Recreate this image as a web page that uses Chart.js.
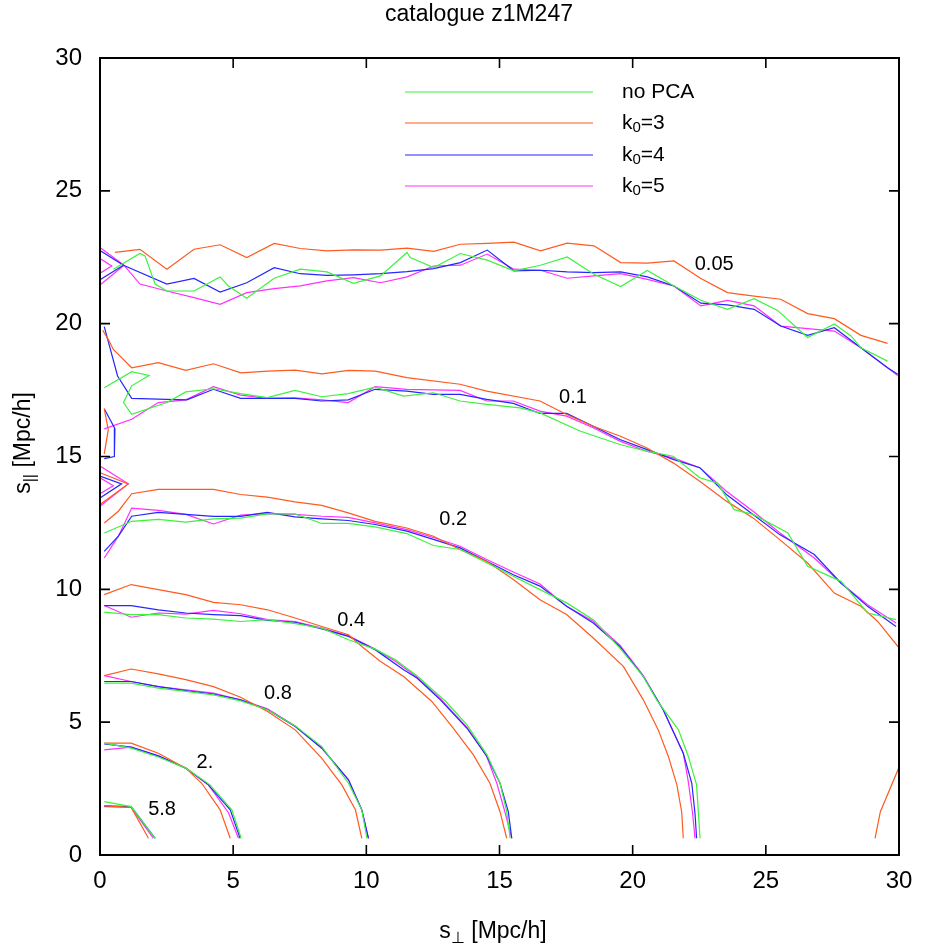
<!DOCTYPE html>
<html>
<head>
<meta charset="utf-8">
<script src="https://cdn.jsdelivr.net/npm/chart.js@4.4.1/dist/chart.umd.min.js"></script>
<style>
html,body{margin:0;padding:0;background:#fff;}
#c{display:block;}
</style>
</head>
<body>
<canvas id="c" width="926" height="951"></canvas>
<script>
// ---------- DATA ----------
const chartTitle = "catalogue z1M247";
const xTicks = [0, 5, 10, 15, 20, 25, 30];
const yTicks = [0, 5, 10, 15, 20, 25, 30];
const seriesLabels = ["no PCA", "k0=3", "k0=4", "k0=5"];
const contourLevels = ["0.05", "0.1", "0.2", "0.4", "0.8", "2.", "5.8"];
const contourLabelPos = [[23.06,22.22],[17.76,17.23],[13.26,12.64],[9.43,8.81],[6.68,6.07],[3.94,3.5],[2.33,1.73]];

// no PCA (green)
const np_005 = [[0.5,22.05],[1.5,22.64],[1.69,22.55],[2.07,21.49],[2.51,21.23],[3.53,21.23],[4.51,21.76],[4.82,21.42],[5.51,20.96],[6.54,21.71],[7.52,22.05],[8.52,21.95],[9.52,21.52],[10.53,21.8],[11.53,22.68],[11.65,22.49],[12.53,22.11],[13.53,22.64],[14.54,22.39],[15.54,21.99],[16.54,22.2],[17.54,22.51],[18.55,21.86],[19.55,21.4],[20.55,22.0],[21.55,21.42],[22.56,20.88],[23.56,20.54],[24.56,20.94],[25.44,20.5],[26.57,19.48],[27.57,19.99],[28.2,19.54],[28.57,19.09],[29.57,18.59]];
const np_01 = [[0.16,17.59],[1.19,18.19],[1.84,18.05],[1.19,17.66],[0.88,17.03],[1.19,16.59],[2.51,17.03],[3.22,17.43],[4.26,17.55],[5.28,17.37],[6.28,17.22],[7.32,17.49],[8.33,17.25],[9.32,17.37],[10.33,17.61],[11.4,17.27],[12.52,17.4],[13.52,17.09],[14.52,16.96],[15.77,16.83],[16.52,16.64],[18.02,15.96],[19.52,15.45],[20.52,15.2],[21.52,15.01],[22.52,14.2],[23.18,14.0],[23.81,13.0],[24.52,12.82],[25.82,12.13],[26.57,10.87],[27.82,10.3],[28.2,9.86],[28.82,9.11],[29.89,8.86]];
const np_02 = [[0.16,12.12],[1.19,12.56],[2.19,12.63],[3.22,12.53],[4.26,12.65],[5.28,12.68],[6.28,12.84],[7.32,12.84],[8.33,12.48],[9.32,12.48],[10.33,12.35],[11.52,12.1],[12.52,11.65],[13.52,11.5],[14.52,11.0],[15.52,10.49],[16.52,9.99],[17.52,9.49],[18.52,8.86],[19.52,7.79],[20.4,6.72],[20.9,5.84],[21.72,4.71],[22.09,3.71],[22.4,2.64],[22.53,0.63]];
const np_04 = [[0.16,9.14],[1.17,9.05],[2.19,9.05],[3.22,8.92],[4.26,8.88],[5.28,8.79],[6.29,8.86],[7.33,8.71],[8.33,8.54],[9.33,8.1],[10.33,7.75],[11.09,7.35],[11.9,6.75],[13.02,5.74],[13.78,4.9],[14.53,3.77],[15.02,2.7],[15.27,1.63],[15.4,0.63]];
const np_08 = [[0.16,6.47],[1.17,6.47],[2.19,6.28],[3.22,6.16],[4.26,6.03],[5.28,5.8],[6.29,5.47],[7.33,4.86],[8.33,4.08],[9.33,2.7],[9.83,1.7],[10.02,0.63]];
const np_2 = [[0.16,4.21],[1.17,4.02],[2.19,3.69],[3.22,3.27],[4.13,2.64],[4.95,1.7],[5.3,0.63]];
const np_58 = [[0.16,2.01],[1.17,1.82],[2.07,0.63]];

// k0=3 (orange)
const k3_005 = [[0.56,22.68],[1.5,22.8],[2.51,22.05],[3.53,22.8],[4.51,22.97],[5.51,22.49],[6.54,23.02],[7.52,22.83],[8.52,22.74],[9.52,22.78],[10.53,22.77],[11.53,22.84],[12.53,22.72],[13.53,22.99],[14.54,23.02],[15.54,23.07],[16.54,22.74],[17.54,23.03],[18.55,22.93],[19.55,22.3],[20.55,22.28],[21.55,22.36],[22.56,21.7],[23.56,21.17],[24.56,21.04],[25.56,20.92],[26.57,20.38],[27.57,20.19],[28.57,19.56],[29.57,19.26]];
const k3_01 = [[0.1,19.75],[0.31,19.41],[0.5,19.03],[1.19,18.34],[2.19,18.53],[3.22,18.24],[4.26,18.49],[5.29,18.15],[6.29,18.21],[7.33,18.25],[8.33,18.11],[9.34,18.24],[10.34,18.21],[11.52,17.97],[13.52,17.72],[14.52,17.46],[16.52,17.09],[17.52,16.58],[18.52,16.14],[19.52,15.77],[20.52,15.33],[21.52,14.76],[22.52,14.07],[23.52,13.32],[24.52,12.69],[25.52,11.87],[26.57,10.99],[27.57,9.86],[28.57,9.36],[29.2,8.79],[30,7.8]];
const k3_01b = [[0.16,16.8],[0.31,16.0],[0.16,15.1]];
const k3_01c = [[0,14.39],[1.06,13.97],[0,13.19]];
const k3_02 = [[0.16,12.5],[0.69,12.94],[1.19,13.6],[2.19,13.76],[4.26,13.76],[5.28,13.57],[6.28,13.47],[7.32,13.29],[8.33,13.16],[9.32,12.88],[10.33,12.56],[11.52,12.31],[12.52,12.0],[13.52,11.5],[14.52,11.06],[15.52,10.37],[16.52,9.61],[17.52,9.05],[18.52,8.17],[19.65,7.1],[20.4,5.84],[20.96,4.71],[21.34,3.71],[21.66,2.64],[21.84,1.63],[21.9,0.63]];
const k3_04 = [[0.16,9.8],[1.17,10.18],[2.19,9.99],[3.22,9.8],[4.26,9.51],[5.28,9.42],[6.29,9.23],[7.33,8.92],[8.33,8.6],[9.33,8.29],[9.83,7.85],[10.52,7.29],[11.4,6.72],[12.46,5.78],[13.27,4.77],[14.02,3.77],[14.64,2.7],[15.02,1.63],[15.27,0.63]];
const k3_08 = [[0.16,6.75],[1.17,7.0],[2.19,6.82],[3.22,6.6],[4.26,6.34],[5.28,5.94],[6.29,5.4],[7.33,4.71],[8.33,3.64],[9.08,2.64],[9.59,1.7],[9.83,0.63]];
const k3_2 = [[0.16,4.21],[1.17,4.21],[2.19,3.83],[3.22,3.27],[3.82,2.7],[4.51,1.7],[4.89,0.63]];
const k3_58 = [[0.16,1.85],[1.17,1.79],[1.82,0.63]];
const k3_corner = [[29.1,0.63],[29.3,1.63],[30,3.3]];

// k0=4 (blue)
const k4_005 = [[0,22.75],[0.88,22.2],[2.51,21.49],[3.53,21.7],[4.51,21.19],[5.51,21.54],[6.54,22.11],[7.52,21.88],[8.52,21.82],[9.52,21.84],[10.53,21.88],[11.53,21.96],[12.53,22.07],[13.53,22.3],[14.54,22.77],[15.54,21.99],[16.54,22.01],[17.54,21.95],[18.55,21.92],[19.55,21.95],[20.55,21.76],[21.55,21.42],[22.56,20.77],[23.56,20.71],[24.56,20.54],[25.56,19.91],[26.57,19.56],[27.57,19.85],[28.57,19.09],[29.57,18.34],[29.95,18.1]];
const k4_005b = [[0.88,22.2],[0,21.65]];
const k4_01 = [[0.16,19.89],[0.66,18.03],[1.19,17.19],[2.51,17.15],[3.26,17.13],[4.26,17.53],[5.28,17.19],[6.28,17.19],[7.32,17.19],[8.33,17.09],[9.32,17.13],[10.33,17.53],[11.52,17.46],[12.52,17.34],[13.52,17.34],[14.52,17.15],[15.52,17.0],[16.52,16.62],[17.52,16.62],[18.52,16.14],[19.52,15.64],[20.52,15.27],[21.52,14.89],[22.52,14.58],[23.52,13.57],[24.52,12.82],[25.52,12.06],[26.82,11.31],[27.82,10.24],[28.82,9.36],[29.89,8.6]];
const k4_01b = [[0.16,16.8],[0.56,16.05],[0.54,15.0],[0.16,14.92]];
const k4_01c = [[0,14.26],[0.81,13.97],[0,13.44]];
const k4_02 = [[0.16,11.43],[0.69,12.0],[1.19,12.75],[2.19,12.9],[3.22,12.82],[4.26,12.75],[5.28,12.75],[6.28,12.9],[7.32,12.73],[8.33,12.65],[9.32,12.59],[10.33,12.44],[11.52,12.19],[12.52,11.88],[13.52,11.56],[14.52,11.06],[15.52,10.55],[16.52,10.12],[17.52,9.36],[18.52,8.73],[19.52,7.85],[20.4,6.72],[21.15,5.46],[21.9,3.83],[22.22,2.7],[22.34,1.57],[22.4,0.63]];
const k4_04 = [[0.16,9.39],[1.17,9.39],[2.19,9.23],[3.22,9.11],[4.26,9.05],[5.28,9.01],[6.29,8.83],[7.33,8.76],[8.33,8.51],[9.33,8.23],[10.33,7.73],[11.4,6.97],[11.9,6.66],[12.78,5.84],[13.78,4.77],[14.53,3.71],[15.02,2.7],[15.33,1.63],[15.46,0.63]];
const k4_08 = [[0.16,6.53],[1.17,6.53],[2.19,6.34],[3.22,6.19],[4.26,6.06],[5.28,5.84],[6.29,5.47],[7.33,4.84],[8.33,4.02],[9.33,2.83],[9.83,1.7],[10.08,0.63]];
const k4_2 = [[0.16,4.18],[1.17,4.06],[2.19,3.73],[3.22,3.27],[4.07,2.64],[4.89,1.7],[5.26,0.63]];
const k4_58 = [[0.16,1.85],[1.17,1.82],[2.07,0.63]];

// k0=5 (magenta)
const k5_005 = [[0,22.87],[0.9,22.2],[1.5,21.49],[2.51,21.23],[3.53,20.98],[4.51,20.73],[5.51,21.17],[6.54,21.32],[7.52,21.42],[8.52,21.61],[9.52,21.73],[10.53,21.54],[11.53,21.76],[12.53,22.17],[13.53,22.2],[14.54,22.62],[15.54,22.05],[16.54,22.01],[17.54,21.71],[18.55,21.8],[19.55,21.88],[20.55,21.67],[21.55,21.42],[22.56,20.67],[23.56,20.88],[24.56,20.67],[25.56,19.91],[26.57,19.81],[27.57,19.72],[28.57,19.09],[29.57,18.34],[29.95,18.05]];
const k5_005b = [[0.9,22.2],[0,21.45]];
const k5_005c = [[0,22.45],[0.44,22.17],[0,21.9]];
const k5_01 = [[0.16,16.04],[1.19,16.4],[2.19,17.03],[3.22,17.13],[4.26,17.63],[5.28,17.31],[6.28,17.19],[7.32,17.21],[8.33,17.13],[9.32,17.03],[10.33,17.63],[11.52,17.53],[13.52,17.49],[14.52,17.09],[15.52,17.09],[16.52,16.71],[17.52,16.52],[18.52,16.08],[19.52,15.58],[20.52,15.2],[21.52,14.95],[22.52,14.58],[23.52,13.69],[24.52,12.94],[25.52,12.13],[26.82,11.18],[27.82,10.24],[28.82,9.42],[29.89,8.73]];
const k5_01c = [[0,14.64],[1.06,13.97],[0,13.13]];
const k5_01d = [[0,14.2],[0.5,13.9],[0,13.6]];
const k5_02 = [[0.16,11.18],[0.69,12.0],[1.19,13.06],[2.19,12.97],[3.22,12.82],[4.26,12.46],[5.28,12.79],[6.28,12.85],[7.32,12.82],[8.33,12.75],[9.32,12.71],[10.33,12.5],[11.52,12.25],[12.52,11.95],[13.52,11.62],[14.52,11.12],[15.52,10.65],[16.52,10.2],[17.52,9.36],[18.52,8.8],[19.52,7.9],[20.4,6.75],[21.15,5.46],[21.9,3.83],[22.09,2.75],[22.25,1.57],[22.34,0.63]];
const k5_04 = [[0.16,9.39],[1.17,8.95],[2.19,9.11],[3.22,9.07],[4.26,9.21],[5.28,9.08],[6.29,8.86],[7.33,8.79],[8.33,8.54],[9.33,8.25],[10.33,7.75],[11.09,7.29],[11.9,6.7],[12.78,5.88],[13.78,4.8],[14.5,3.75],[14.9,2.7],[15.2,1.63],[15.46,0.63]];
const k5_08 = [[0.16,6.75],[1.17,6.53],[2.19,6.34],[3.22,6.22],[4.26,6.09],[5.28,5.84],[6.29,5.5],[7.33,4.86],[8.33,4.02],[9.33,2.83],[9.83,1.7],[10.08,0.63]];
const k5_2 = [[0.16,3.96],[1.17,4.06],[2.19,3.73],[3.22,3.27],[4.07,2.64],[4.82,1.6],[5.2,0.63]];
const k5_58 = [[0.16,1.82],[1.17,1.79],[2.0,0.63]];

// ---------- STYLE ----------
const COLORS = ["#3cf23c", "#ff5a1f", "#2626ff", "#ff30ff"];
const FONT = "'Liberation Sans', Arial, sans-serif";

const groups = [
  [np_005, np_01, np_02, np_04, np_08, np_2, np_58],
  [k3_005, k3_01, k3_01b, k3_01c, k3_02, k3_04, k3_08, k3_2, k3_58, k3_corner],
  [k4_005, k4_005b, k4_01, k4_01b, k4_01c, k4_02, k4_04, k4_08, k4_2, k4_58],
  [k5_005, k5_005b, k5_005c, k5_01, k5_01c, k5_01d, k5_02, k5_04, k5_08, k5_2, k5_58]
];

const datasets = [];
groups.forEach((segs, gi) => {
  segs.forEach((seg, si) => {
    datasets.push({
      label: seriesLabels[gi] + (si ? "_" + si : ""),
      data: seg.map(p => ({x: p[0], y: p[1]})),
      showLine: true,
      borderColor: COLORS[gi],
      backgroundColor: COLORS[gi],
      borderWidth: 1.2,
      pointRadius: 0,
      pointHoverRadius: 0,
      tension: 0,
      fill: false
    });
  });
});

function drawSubText(ctx, parts, x, y, align) {
  const big = parts.size, small = parts.subSize;
  let w = 0;
  parts.items.forEach(p => { ctx.font = (p[1] ? small : big) + "px " + FONT; w += ctx.measureText(p[0]).width; });
  let cx = align === "center" ? x - w / 2 : x;
  ctx.textAlign = "left";
  parts.items.forEach(p => {
    ctx.font = (p[1] ? small : big) + "px " + FONT;
    ctx.fillText(p[0], cx, y + (p[1] ? parts.subShift : 0));
    cx += ctx.measureText(p[0]).width;
  });
}

const decor = {
  id: "decor",
  afterDraw(chart) {
    const ctx = chart.ctx;
    const a = chart.chartArea;
    const xs = chart.scales.x, ys = chart.scales.y;
    ctx.save();
    // frame
    ctx.strokeStyle = "#000";
    ctx.lineWidth = 2;
    ctx.strokeRect(a.left, a.top, a.right - a.left, a.bottom - a.top);
    // inward ticks on all sides
    ctx.lineWidth = 1.6;
    const tl = 10;
    xTicks.forEach(v => {
      const px = xs.getPixelForValue(v);
      ctx.beginPath();
      ctx.moveTo(px, a.bottom); ctx.lineTo(px, a.bottom - tl);
      ctx.moveTo(px, a.top); ctx.lineTo(px, a.top + tl);
      ctx.stroke();
    });
    yTicks.forEach(v => {
      const py = ys.getPixelForValue(v);
      ctx.beginPath();
      ctx.moveTo(a.left, py); ctx.lineTo(a.left + tl, py);
      ctx.moveTo(a.right, py); ctx.lineTo(a.right - tl, py);
      ctx.stroke();
    });
    ctx.fillStyle = "#000";
    ctx.textBaseline = "alphabetic";
    // title
    ctx.font = "23px " + FONT;
    ctx.textAlign = "center";
    ctx.fillText(chartTitle, 479, 21);
    // contour labels
    ctx.font = "20px " + FONT;
    ctx.textBaseline = "middle";
    contourLevels.forEach((t, i) => {
      const p = contourLabelPos[i];
      ctx.fillText(t, xs.getPixelForValue(p[0]), ys.getPixelForValue(p[1]));
    });
    // legend
    const legY = [92, 123, 155, 186];
    ctx.textBaseline = "middle";
    seriesLabels.forEach((lab, i) => {
      ctx.strokeStyle = COLORS[i];
      ctx.lineWidth = 1.2;
      ctx.beginPath();
      ctx.moveTo(405, legY[i]); ctx.lineTo(593, legY[i]);
      ctx.stroke();
      ctx.fillStyle = "#000";
      if (i === 0) {
        ctx.font = "21px " + FONT;
        ctx.textAlign = "left";
        ctx.fillText(lab, 622, legY[i]);
      } else {
        drawSubText(ctx, {size: 21, subSize: 15, subShift: 5,
          items: [["k", false], ["0", true], [lab.slice(2), false]]}, 622, legY[i], "left");
      }
    });
    // axis titles
    ctx.textBaseline = "alphabetic";
    drawSubText(ctx, {size: 23, subSize: 16, subShift: 5,
      items: [["s", false], ["\u22A5", true], [" [Mpc/h]", false]]}, 493, 938, "center");
    ctx.save();
    ctx.translate(30, 443);
    ctx.rotate(-Math.PI / 2);
    drawSubText(ctx, {size: 23, subSize: 16, subShift: 5,
      items: [["s", false], ["||", true], [" [Mpc/h]", false]]}, 0, 0, "center");
    ctx.restore();
    ctx.restore();
  }
};

new Chart(document.getElementById("c"), {
  type: "scatter",
  data: { datasets },
  options: {
    responsive: false,
    animation: false,
    events: [],
    layout: { padding: { top: 58, right: 27, left: 0, bottom: 0 } },
    plugins: { legend: { display: false }, tooltip: { enabled: false }, title: { display: false } },
    scales: {
      x: {
        type: "linear", min: 0, max: 30,
        afterBuildTicks: s => { s.ticks = xTicks.map(v => ({value: v})); },
        afterFit: s => { s.height = 96; },
        grid: { display: false, drawTicks: false },
        border: { display: false },
        ticks: { color: "#000", font: { family: FONT, size: 24 }, padding: 12, maxRotation: 0 }
      },
      y: {
        type: "linear", min: 0, max: 30,
        afterBuildTicks: s => { s.ticks = yTicks.map(v => ({value: v})); },
        afterFit: s => { s.width = 100; },
        grid: { display: false, drawTicks: false },
        border: { display: false },
        ticks: { color: "#000", font: { family: FONT, size: 24 }, padding: 18 }
      }
    }
  },
  plugins: [decor]
});
</script>
</body>
</html>
